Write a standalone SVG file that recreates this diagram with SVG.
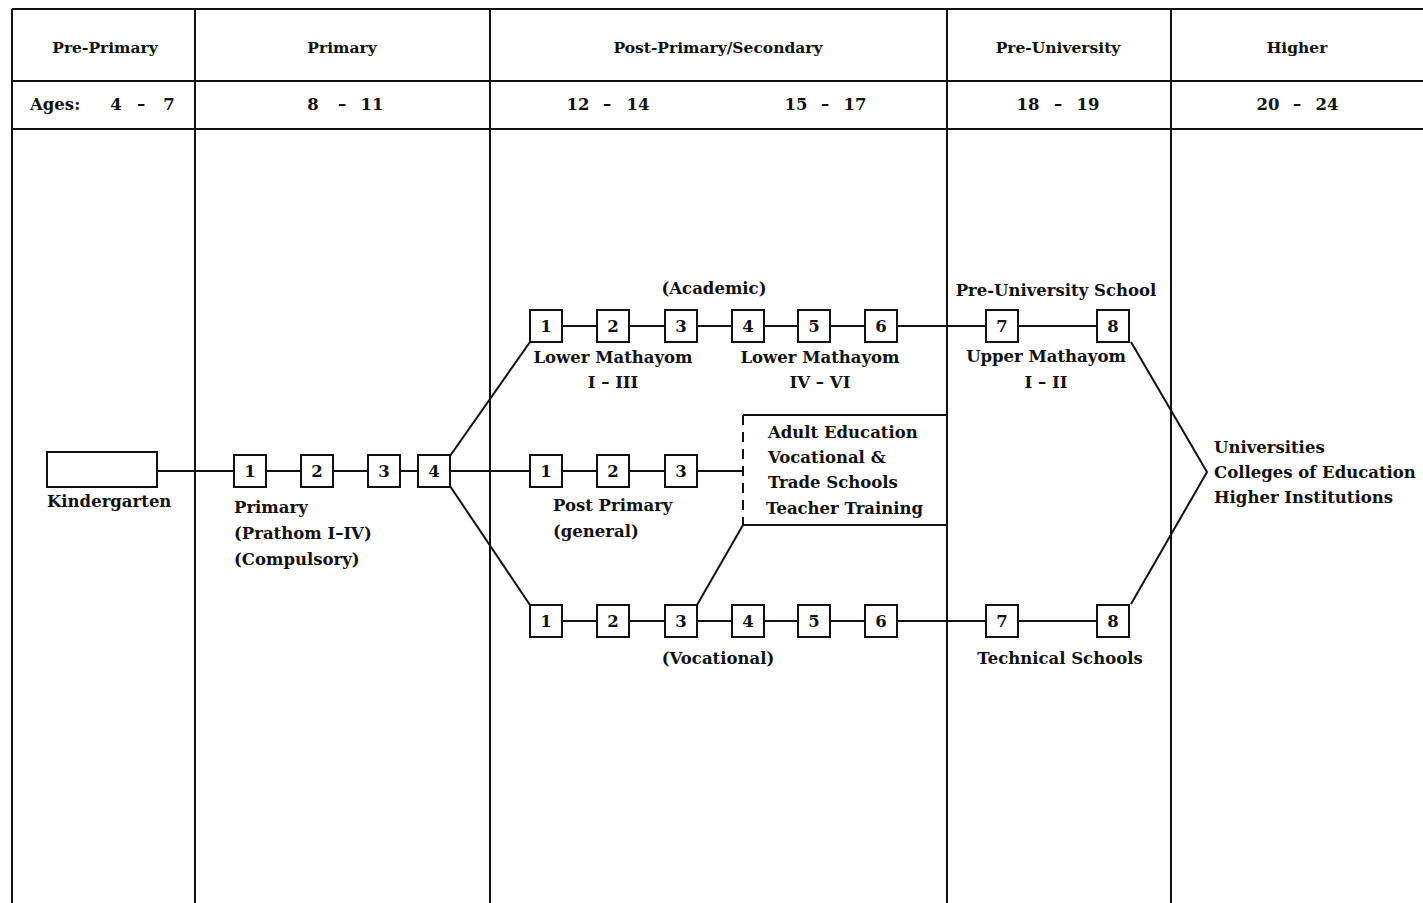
<svg xmlns="http://www.w3.org/2000/svg" width="1423" height="903" viewBox="0 0 1423 903">
<style>
.ln{stroke:#111;stroke-width:2;fill:none}
.bx{stroke:#111;stroke-width:2;fill:#fff}
text{font-family:"DejaVu Serif","Liberation Serif",serif;font-weight:bold;fill:#111;font-size:16.5px}
.c{text-anchor:middle}
.h{font-size:15.5px}
</style>
<rect width="1423" height="903" fill="#fff"/>
<g id="table" class="ln">
<line x1="12" y1="9" x2="1423" y2="9"/>
<line x1="12" y1="81" x2="1423" y2="81"/>
<line x1="12" y1="129" x2="1423" y2="129"/>
<line x1="12" y1="9" x2="12" y2="903"/>
<line x1="195" y1="9" x2="195" y2="903"/>
<line x1="490" y1="9" x2="490" y2="903"/>
<line x1="947" y1="9" x2="947" y2="903"/>
<line x1="1171" y1="9" x2="1171" y2="903"/>
</g>
<g id="headers">
<text class="c h" x="105" y="53">Pre-Primary</text>
<text class="c h" x="342" y="53">Primary</text>
<text class="c h" x="718" y="53">Post-Primary/Secondary</text>
<text class="c h" x="1058" y="53">Pre-University</text>
<text class="c h" x="1297" y="53">Higher</text>
<text x="30" y="110">Ages:</text>
<text class="c" x="116" y="110">4</text><text class="c" x="141" y="110">–</text><text class="c" x="169" y="110">7</text>
<text class="c" x="313" y="110">8</text><text class="c" x="342" y="110">–</text><text class="c" x="372" y="110">11</text>
<text class="c" x="578" y="110">12</text><text class="c" x="607" y="110">–</text><text class="c" x="638" y="110">14</text>
<text class="c" x="796" y="110">15</text><text class="c" x="825" y="110">–</text><text class="c" x="855" y="110">17</text>
<text class="c" x="1028" y="110">18</text><text class="c" x="1058" y="110">–</text><text class="c" x="1088" y="110">19</text>
<text class="c" x="1268" y="110">20</text><text class="c" x="1297" y="110">–</text><text class="c" x="1327" y="110">24</text>
</g>
<g id="connectors" class="ln">
<line x1="157" y1="471" x2="234" y2="471"/>
<line x1="266" y1="471" x2="301" y2="471"/>
<line x1="333" y1="471" x2="368" y2="471"/>
<line x1="400" y1="471" x2="418" y2="471"/>
<line x1="450" y1="471" x2="530" y2="471"/>
<line x1="562" y1="471" x2="597" y2="471"/>
<line x1="629" y1="471" x2="665" y2="471"/>
<line x1="697" y1="471" x2="743" y2="471"/>
<line x1="450" y1="456" x2="530" y2="342"/>
<line x1="450" y1="486" x2="530" y2="605"/>
<line x1="562" y1="326" x2="597" y2="326"/>
<line x1="629" y1="326" x2="665" y2="326"/>
<line x1="697" y1="326" x2="732" y2="326"/>
<line x1="764" y1="326" x2="798" y2="326"/>
<line x1="830" y1="326" x2="865" y2="326"/>
<line x1="897" y1="326" x2="986" y2="326"/>
<line x1="1018" y1="326" x2="1097" y2="326"/>
<line x1="562" y1="621" x2="597" y2="621"/>
<line x1="629" y1="621" x2="665" y2="621"/>
<line x1="697" y1="621" x2="732" y2="621"/>
<line x1="764" y1="621" x2="798" y2="621"/>
<line x1="830" y1="621" x2="865" y2="621"/>
<line x1="897" y1="621" x2="986" y2="621"/>
<line x1="1018" y1="621" x2="1097" y2="621"/>
<line x1="697" y1="605" x2="743" y2="525"/>
<polyline points="1131,342 1207,472 1131,604"/>
</g>
<g id="kindergarten">
<rect class="bx" x="47" y="452" width="110" height="35"/>
<text x="47" y="507">Kindergarten</text>
</g>
<g id="primary">
<rect class="bx" x="234" y="455" width="32" height="32"/><text class="c" x="250" y="477">1</text>
<rect class="bx" x="301" y="455" width="32" height="32"/><text class="c" x="317" y="477">2</text>
<rect class="bx" x="368" y="455" width="32" height="32"/><text class="c" x="384" y="477">3</text>
<rect class="bx" x="418" y="455" width="32" height="32"/><text class="c" x="434" y="477">4</text>
<text x="234" y="513">Primary</text>
<text x="234" y="539">(Prathom I–IV)</text>
<text x="234" y="565">(Compulsory)</text>
</g>
<g id="academic">
<text class="c" x="714" y="294">(Academic)</text>
<rect class="bx" x="530" y="310" width="32" height="32"/><text class="c" x="546" y="332">1</text>
<rect class="bx" x="597" y="310" width="32" height="32"/><text class="c" x="613" y="332">2</text>
<rect class="bx" x="665" y="310" width="32" height="32"/><text class="c" x="681" y="332">3</text>
<rect class="bx" x="732" y="310" width="32" height="32"/><text class="c" x="748" y="332">4</text>
<rect class="bx" x="798" y="310" width="32" height="32"/><text class="c" x="814" y="332">5</text>
<rect class="bx" x="865" y="310" width="32" height="32"/><text class="c" x="881" y="332">6</text>
<text class="c" x="613" y="363">Lower Mathayom</text>
<text class="c" x="613" y="388">I – III</text>
<text class="c" x="820" y="363">Lower Mathayom</text>
<text class="c" x="820" y="388">IV – VI</text>
</g>
<g id="preuniversity">
<text class="c" x="1056" y="296">Pre-University School</text>
<rect class="bx" x="986" y="310" width="32" height="32"/><text class="c" x="1002" y="332">7</text>
<rect class="bx" x="1097" y="310" width="32" height="32"/><text class="c" x="1113" y="332">8</text>
<text class="c" x="1046" y="362">Upper Mathayom</text>
<text class="c" x="1046" y="388">I – II</text>
</g>
<g id="postprimary">
<rect class="bx" x="530" y="455" width="32" height="32"/><text class="c" x="546" y="477">1</text>
<rect class="bx" x="597" y="455" width="32" height="32"/><text class="c" x="613" y="477">2</text>
<rect class="bx" x="665" y="455" width="32" height="32"/><text class="c" x="681" y="477">3</text>
<text x="553" y="511">Post Primary</text>
<text x="553" y="537">(general)</text>
</g>
<g id="adult">
<line class="ln" x1="743" y1="415" x2="947" y2="415"/>
<line class="ln" x1="743" y1="525" x2="947" y2="525"/>
<line class="ln" x1="743" y1="415" x2="743" y2="525" stroke-dasharray="10,7"/>
<text x="768" y="438">Adult Education</text>
<text x="768" y="463">Vocational &amp;</text>
<text x="768" y="488">Trade Schools</text>
<text x="766" y="514">Teacher Training</text>
</g>
<g id="vocational">
<rect class="bx" x="530" y="605" width="32" height="32"/><text class="c" x="546" y="627">1</text>
<rect class="bx" x="597" y="605" width="32" height="32"/><text class="c" x="613" y="627">2</text>
<rect class="bx" x="665" y="605" width="32" height="32"/><text class="c" x="681" y="627">3</text>
<rect class="bx" x="732" y="605" width="32" height="32"/><text class="c" x="748" y="627">4</text>
<rect class="bx" x="798" y="605" width="32" height="32"/><text class="c" x="814" y="627">5</text>
<rect class="bx" x="865" y="605" width="32" height="32"/><text class="c" x="881" y="627">6</text>
<text class="c" x="718" y="664">(Vocational)</text>
</g>
<g id="technical">
<rect class="bx" x="986" y="605" width="32" height="32"/><text class="c" x="1002" y="627">7</text>
<rect class="bx" x="1097" y="605" width="32" height="32"/><text class="c" x="1113" y="627">8</text>
<text class="c" x="1060" y="664">Technical Schools</text>
</g>
<g id="higher">
<text x="1214" y="453">Universities</text>
<text x="1214" y="478">Colleges of Education</text>
<text x="1214" y="503">Higher Institutions</text>
</g>
</svg>
